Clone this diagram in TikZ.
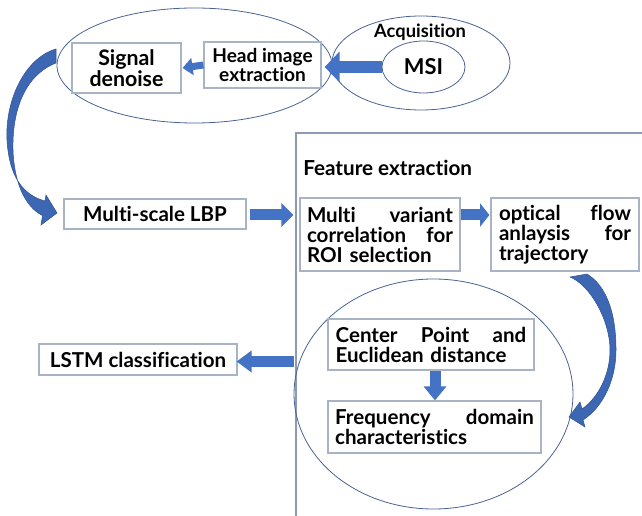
\documentclass[tikz,border=0pt]{standalone}
\usepackage{fontspec}
\setmainfont{Lato}[Ligatures=NoCommon]
\usetikzlibrary{shapes.geometric,arrows.meta,calc}
\definecolor{arrowblue}{HTML}{4472C4}
\definecolor{curveblue}{HTML}{3D66B3}
\definecolor{curveedge}{HTML}{2F5597}
\definecolor{ringblue}{HTML}{4A6394}
\definecolor{boxgray}{HTML}{A9B3C6}
\definecolor{panelgray}{HTML}{8E9AB3}

\begin{document}
\begin{tikzpicture}[x=0.75pt,y=-0.75pt,
  box/.style={draw=boxgray,line width=0.9pt,inner sep=0pt,
    font=\bfseries\fontsize{15.4}{15}\selectfont},
  ring/.style={draw=ringblue,line width=0.6pt,ellipse,inner sep=0pt},
  barrow/.style n args={3}{draw=arrowblue,line width=#1,
    -{Triangle[width=#2,length=#3]}},
  curved/.style={fill=curveblue,draw=curveedge,line width=0.4pt},
  lbl/.style={inner sep=0pt,font=\bfseries\fontsize{15.5}{16}\selectfont}
]
\useasboundingbox (0,0) rectangle (642,516);

% feature extraction panel
\coordinate (pbot) at (296,516);
\coordinate (pcorner) at (296,133);
\coordinate (pright) at (642,133);
\draw[panelgray,line width=0.8pt] (pbot) -- (pcorner) -- (pright);
\node[lbl,anchor=west] (feat) at (303,168) {Feature extraction};

% ellipses
\node[ring,minimum width=206.25pt,minimum height=86.25pt] (pre) at (194.5,65.5) {};
\node[ring,minimum width=133.5pt,minimum height=70.5pt] (acq) at (421,63) {};
\node[ring,minimum width=62.25pt,minimum height=39pt,
  font=\bfseries\fontsize{16.4}{17}\selectfont] (msi) at (423.5,67) {MSI};
\node[lbl,font=\bfseries\fontsize{13.75}{14}\selectfont] (acqlbl) at (420,32) {Acquisition};
\node[ring,minimum width=209.25pt,minimum height=172.5pt] (circ) at (433.5,394) {};

% process boxes
\node[box,minimum width=81.75pt,minimum height=37.5pt,align=center,
  font=\bfseries\fontsize{16}{12.5}\selectfont] (signal) at (126.5,68) {Signal\\denoise};
\node[box,minimum width=87.75pt,minimum height=34.5pt,align=center,
  font=\bfseries\fontsize{14.3}{13}\selectfont] (head) at (262.5,65) {Head image\\extraction};
\node[box,minimum width=136.5pt,minimum height=22.5pt] (lbp) at (155,214) {Multi-scale LBP};
\node[box,minimum width=120pt,minimum height=54.75pt,text width=109.5pt,align=left]
  (mv) at (380,234.5) {Multi\hfill variant\\correlation\hfill for\\ROI selection};
\node[box,minimum width=111pt,minimum height=54.75pt,text width=99pt,align=left]
  (of) at (565,234.5) {optical\hfill flow\\anlaysis\hfill for\\trajectory};
\node[box,minimum width=154.5pt,minimum height=38.25pt,text width=143pt,align=left]
  (cp) at (431,344.5) {Center\hfill Point\hfill and\\Euclidean distance};
\node[box,minimum width=159.75pt,minimum height=39pt,text width=149pt,align=left]
  (fd) at (434.5,427) {Frequency\hfill domain\\characteristics};
\node[box,minimum width=148.5pt,minimum height=23.25pt] (lstm) at (138,359.5) {LSTM classification};

% straight block arrows
\draw[barrow={5.25pt}{12.75pt}{7.5pt}] (head.west) -- ($(signal.east)+(1,0)$);
\draw[barrow={9pt}{22.5pt}{11.25pt}] (msi.west) -- ($(msi.west -| head.east)+(3,0)$);
\draw[barrow={8.25pt}{17.25pt}{9pt}] ($(lbp.east)+(3,1)$) -- ($(lbp.east -| mv.west)+(-6,1)$);
\draw[barrow={8.25pt}{17.25pt}{7pt}] ($(mv.east |- lbp.east)+(0,1)$) -- ($(of.west |- lbp.east)+(-1,1)$);
\draw[barrow={8.25pt}{15.75pt}{11.25pt}] ($(lstm.east -| circ.west)+(0,2)$) -- ($(lstm.east)+(-1,2)$);
\draw[barrow={8.25pt}{16.5pt}{10.5pt}] ($(cp.south)+(4,0)$) -- ($(cp.south |- fd.north)+(4,0)$);

% curved arrow: pre-processing ellipse down to the LBP box
\fill[curved]
  (56,49) .. controls (25,58) and (5,100) .. (7,140)
  .. controls (9,175) and (22,195) .. (45,201)
  -- (46,195) -- (57,213) -- (41,225) -- (42.5,215.5)
  .. controls (25,207) and (14,182) .. (13,150)
  .. controls (12,110) and (25,75) .. (56,63) -- cycle;

% curved arrow: optical flow box down into the circle
\fill[curved]
  (570,277) .. controls (590,285) and (610,320) .. (610,350)
  .. controls (610,375) and (598,398) .. (582,409)
  -- (580,402) -- (569,417) -- (585,427) -- (583,420)
  .. controls (603,407) and (616,380) .. (616,350)
  .. controls (616,310) and (605,285) .. (587,274) -- cycle;
\end{tikzpicture}
\end{document}
